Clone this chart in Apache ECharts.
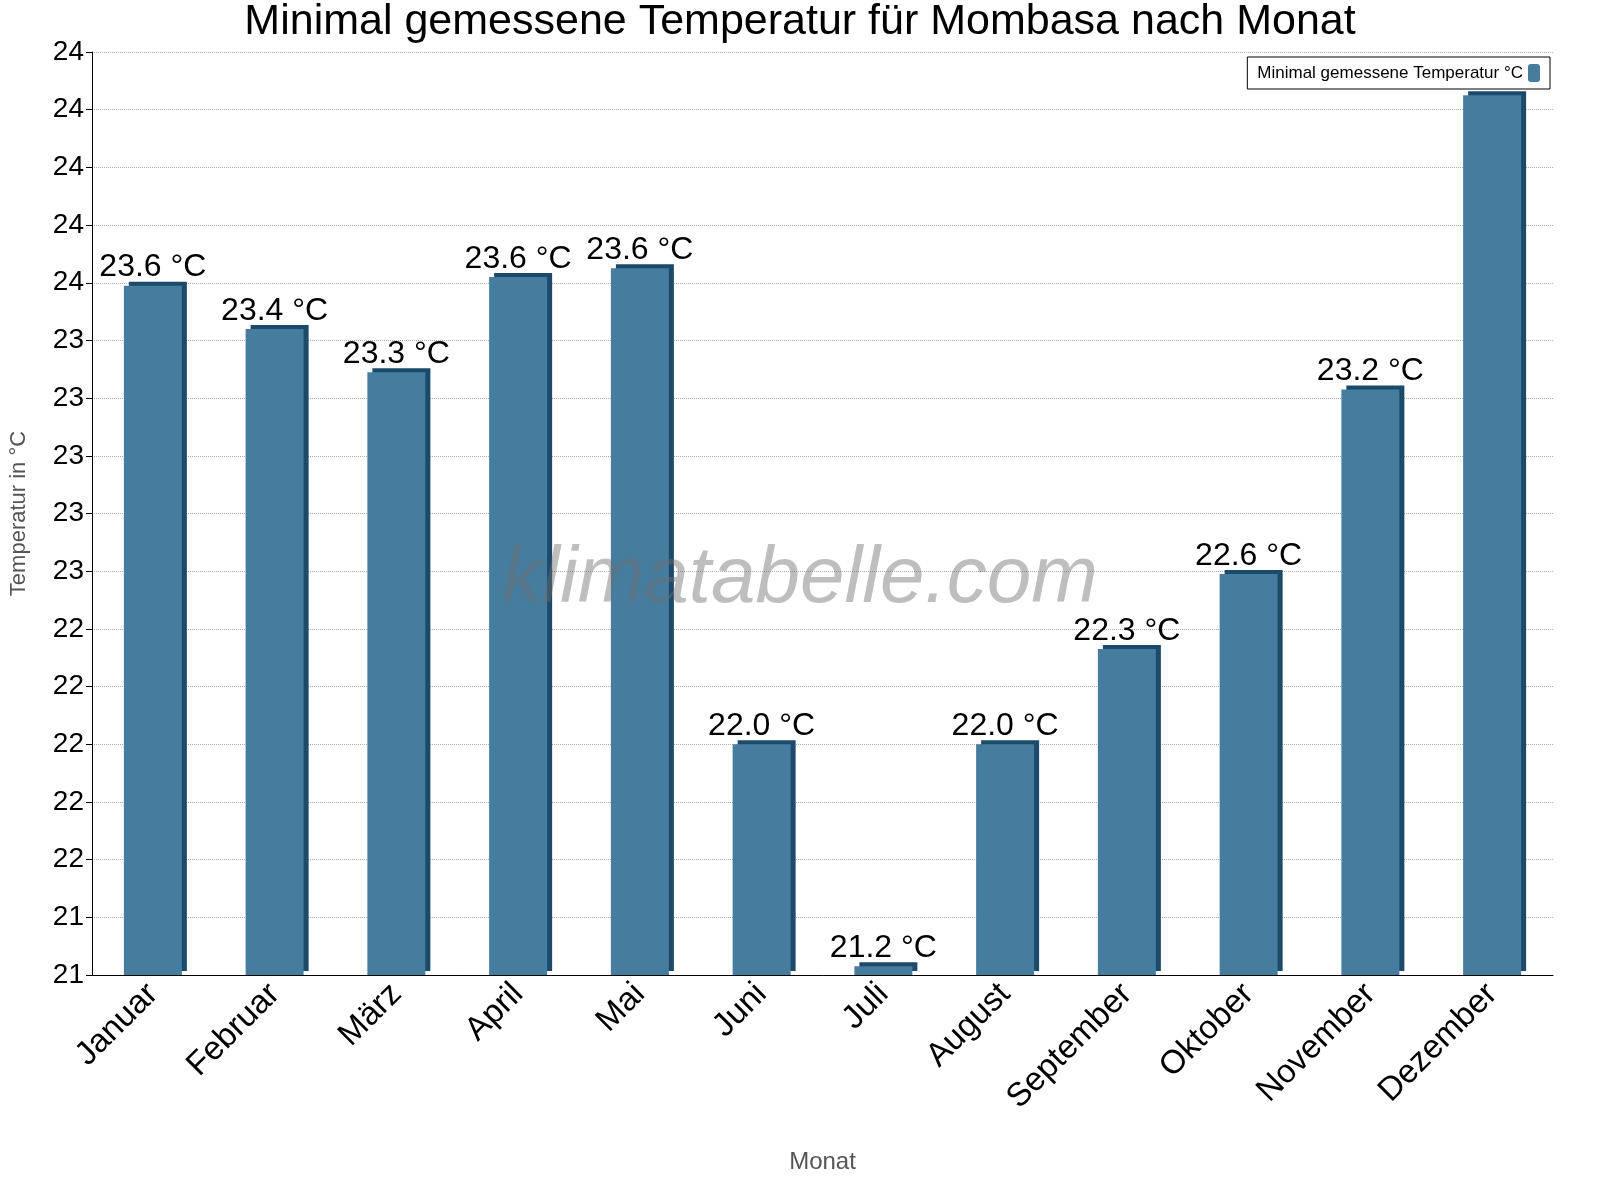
<!DOCTYPE html>
<html>
<head>
<meta charset="utf-8">
<script src="https://cdn.jsdelivr.net/npm/echarts@6/dist/echarts.min.js"></script>
<style>body{margin:0}#chart{width:1600px;height:1200px}</style>
</head>
<body>
<div id="chart"></div>
<script>
const months = ['Januar', 'Februar', 'März', 'April', 'Mai', 'Juni', 'Juli', 'August', 'September', 'Oktober', 'November', 'Dezember']
const minTemp = [23.56, 23.41, 23.26, 23.59, 23.62, 21.97, 21.2, 21.97, 22.3, 22.56, 23.2, 24.22]
const labelShown = [true, true, true, true, true, true, true, true, true, true, true, false]

const chart = echarts.init(document.getElementById('chart'))
chart.setOption({
    animation: false,
    textStyle: { fontFamily: 'Arial, Liberation Sans, sans-serif' },
    title: {
        text: 'Minimal gemessene Temperatur für Mombasa nach Monat',
        left: 'center', top: -4,
        textStyle: { fontSize: 43, fontWeight: 'normal', color: '#000' }
    },
    legend: {
        right: 50, top: 57, align: 'right',
        borderColor: '#000', borderWidth: 1, borderRadius: 0, padding: [7, 10],
        itemWidth: 12, itemHeight: 18,
        textStyle: { fontSize: 17, color: '#000' }
    },
    graphic: [{
        type: 'text', left: 'center', top: 540, z: 100,
        style: { text: 'klimatabelle.com', fontSize: 80, fontStyle: 'italic', fill: 'rgba(110,110,110,0.45)' }
    }],
    grid: { left: 84, right: 47, top: 52, bottom: 225 },
    xAxis: {
        type: 'category', data: months,
        name: 'Monat', nameLocation: 'middle', nameGap: 175,
        nameTextStyle: { fontSize: 24, color: '#555' },
        axisLine: { lineStyle: { color: '#000' } },
        axisTick: { length: 6, lineStyle: { color: '#000' } },
        axisLabel: { rotate: 45, fontSize: 33, color: '#000', margin: 14, padding: [0, 0, 0, 60] }
    },
    yAxis: {
        type: 'value', min: 21.17, max: 24.37, interval: 0.2,
        name: 'Temperatur in °C', nameLocation: 'middle', nameGap: 62,
        nameTextStyle: { fontSize: 22, color: '#555' },
        axisLine: { show: true, lineStyle: { color: '#000' } },
        axisTick: { show: true, length: 6, lineStyle: { color: '#000' } },
        axisLabel: { fontSize: 28, color: '#000', formatter: v => Math.round(v).toString() },
        splitLine: { lineStyle: { type: 'dotted', color: '#aaa' } }
    },
    series: [{
        name: 'Minimal gemessene Temperatur °C',
        type: 'bar', barWidth: 58,
        data: minTemp.map((v, i) => ({ value: v, label: { show: labelShown[i] } })),
        itemStyle: {
            color: '#467c9e',
            shadowColor: '#1b4a6b', shadowOffsetX: 5, shadowOffsetY: -4, shadowBlur: 0
        },
        label: {
            position: 'top', distance: 2, fontSize: 32, color: '#000',
            formatter: p => p.value.toFixed(1) + ' °C'
        }
    }]
})
</script>
</body>
</html>
